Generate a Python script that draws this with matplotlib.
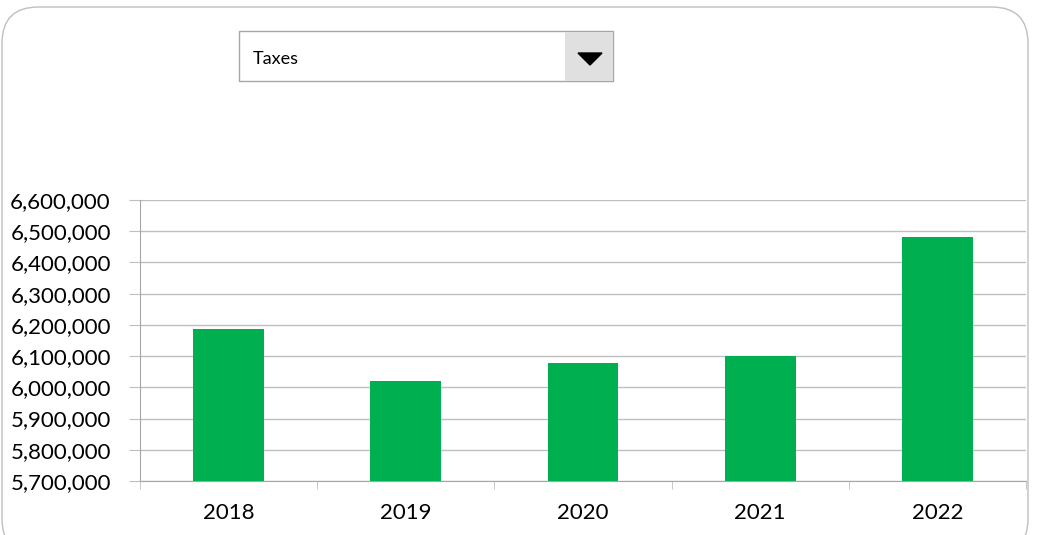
import matplotlib.pyplot as plt
from matplotlib.patches import FancyBboxPatch, Rectangle, Polygon
from matplotlib.ticker import FuncFormatter, FixedLocator

years = ['2018', '2019', '2020', '2021', '2022']
taxes = [6187000, 6020000, 6079000, 6100000, 6481000]
selected = 'Taxes'

plt.rcParams['font.family'] = ['Lato', 'DejaVu Sans']

fig = plt.figure(figsize=(10.4, 5.35), dpi=100, facecolor='white')

# rounded chart border
border = FancyBboxPatch((2 / 1040, -20 / 535), 1026 / 1040, 548 / 535,
                        boxstyle='round,pad=0,rounding_size=0.035',
                        transform=fig.transFigure, fc='none', ec='#BFBFBF',
                        lw=1, mutation_aspect=1040 / 535, zorder=0)
fig.patches.append(border)

ax = fig.add_axes([140 / 1040, 54 / 535, 886 / 1040, 281 / 535])
ax.set_facecolor('none')
x = range(len(years))
ax.bar(x, taxes, width=0.4, color='#00B050', zorder=3)
ax.set_xlim(-0.5, len(years) - 0.5)
ax.set_ylim(5700000, 6600000)
ax.set_yticks(range(5700000, 6600001, 100000))
ax.yaxis.set_major_formatter(FuncFormatter(lambda v, p: f'{int(v):,}'))
ax.set_xticks(list(x))
ax.set_xticklabels(years)
ax.xaxis.set_minor_locator(FixedLocator([i - 0.5 for i in range(len(years) + 1)]))
ax.tick_params(axis='x', which='major', length=0, pad=16, labelsize=16)
ax.tick_params(axis='x', which='minor', length=6, color='#BFBFBF')
ax.tick_params(axis='y', length=8, color='#BFBFBF', labelsize=16, pad=13)
ax.grid(axis='y', color='#BFBFBF', lw=1, zorder=0)
for s in ['top', 'right']:
    ax.spines[s].set_visible(False)
for s in ['left', 'bottom']:
    ax.spines[s].set_color('#A6A6A6')

# dropdown control
fig.patches.append(Rectangle((239 / 1040, 1 - 81 / 535), 374 / 1040, 50 / 535,
                             transform=fig.transFigure, fc='white', ec='#A6A6A6', lw=1))
fig.patches.append(Rectangle((565 / 1040, 1 - 80.5 / 535), 47.5 / 1040, 49 / 535,
                             transform=fig.transFigure, fc='#E0E0E0', ec='none'))
fig.patches.append(Polygon([(578 / 1040, 1 - 53 / 535), (602 / 1040, 1 - 53 / 535),
                            (590 / 1040, 1 - 65 / 535)],
                           closed=True, transform=fig.transFigure, fc='black', ec='black'))
fig.text(253 / 1040, 1 - 59 / 535, selected, fontsize=13, va='center', ha='left')

fig.savefig('out.png', dpi=100)
